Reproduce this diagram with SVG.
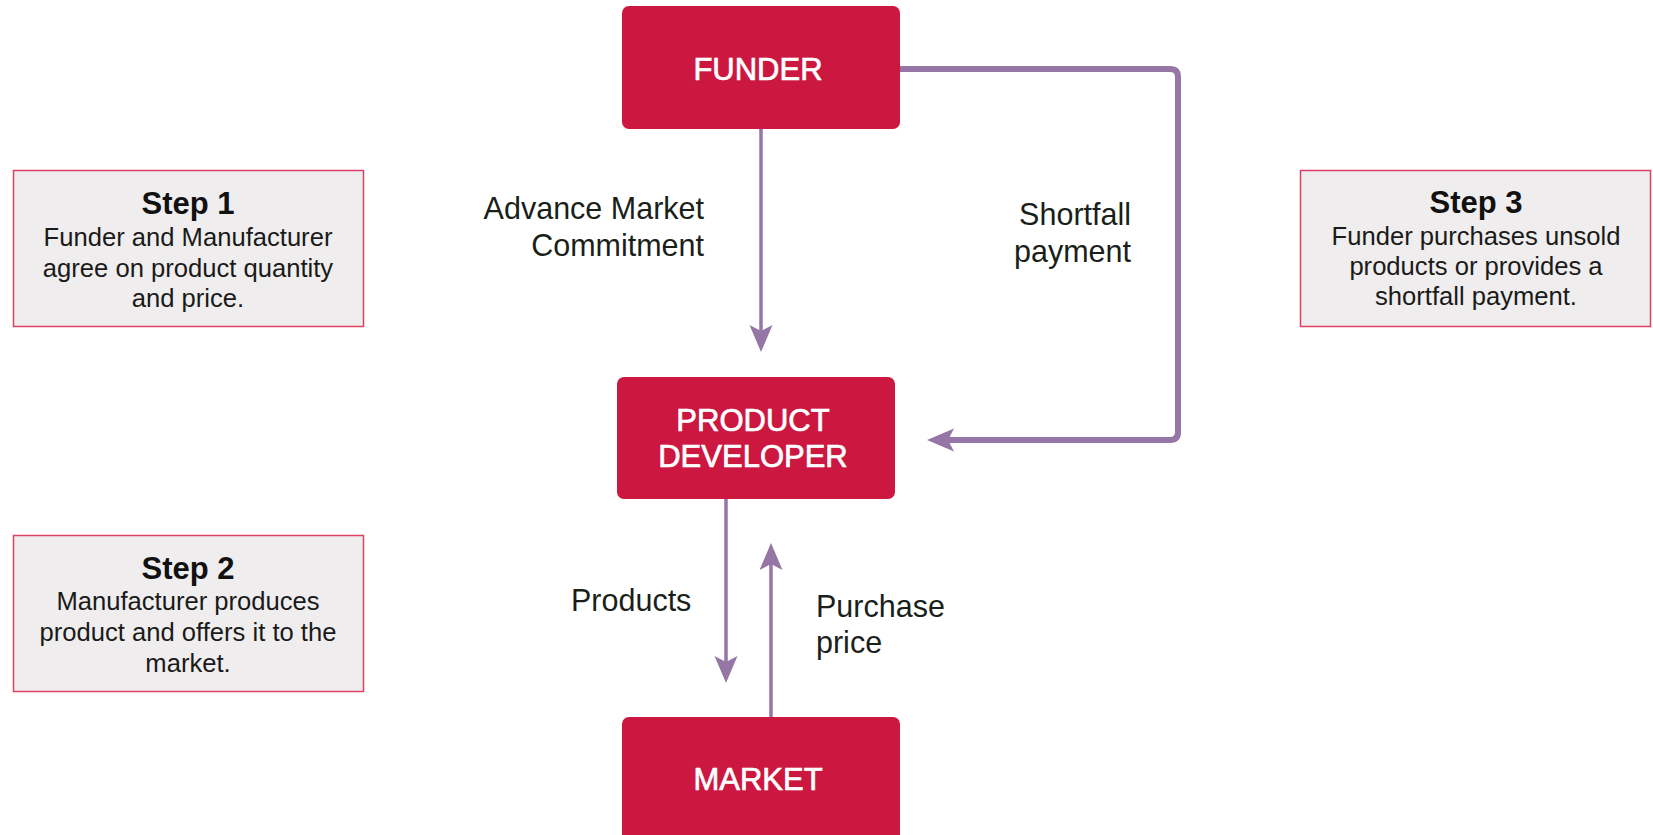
<svg xmlns="http://www.w3.org/2000/svg" width="1653" height="835" viewBox="0 0 1653 835">
<style>
.node{fill:#cc1840}
.ntext{font-family:"Liberation Sans",Arial,sans-serif;font-size:31px;fill:#ffffff;stroke:#ffffff;stroke-width:0.7;text-anchor:middle}
.step{fill:#efeded;stroke:#dc4262;stroke-width:1.5}
.stitle{font-family:"Liberation Sans",Arial,sans-serif;font-size:31px;font-weight:bold;fill:#111111;text-anchor:middle}
.sbody{font-family:"Liberation Sans",Arial,sans-serif;font-size:25.6px;fill:#1a1a1a;text-anchor:middle}
.lbl{font-family:"Liberation Sans",Arial,sans-serif;font-size:30.5px;fill:#1a1f1a}
.conn{fill:none;stroke:#9676a4}
</style>
<defs>
<marker id="ah" markerUnits="userSpaceOnUse" markerWidth="28" markerHeight="24" refX="6" refY="11.5" orient="auto">
<path d="M0,0 L27,11.5 L0,23 L6,11.5 Z" fill="#9676a4"/>
</marker>
</defs>
<rect x="0" y="0" width="1653" height="835" fill="#ffffff"/>
<g id="connectors">
<path class="conn" d="M761,129 V331" stroke-width="3.5" marker-end="url(#ah)"/>
<path class="conn" d="M900,69 H1170 Q1178,69 1178,77 V432 Q1178,440 1170,440 H948" stroke-width="6" marker-end="url(#ah)"/>
<path class="conn" d="M726,499 V662" stroke-width="3.5" marker-end="url(#ah)"/>
<path class="conn" d="M771,717 V564" stroke-width="3.5" marker-end="url(#ah)"/>
<text class="lbl" x="704" y="219" text-anchor="end">Advance Market</text>
<text class="lbl" x="704" y="256" text-anchor="end">Commitment</text>
<text class="lbl" x="1131" y="225" text-anchor="end">Shortfall</text>
<text class="lbl" x="1131" y="262" text-anchor="end">payment</text>
<text class="lbl" x="571" y="611">Products</text>
<text class="lbl" x="816" y="617">Purchase</text>
<text class="lbl" x="816" y="653">price</text>
</g>
<g id="funder">
<rect class="node" x="622" y="6" width="278" height="123" rx="7"/>
<text class="ntext" x="758" y="80">FUNDER</text>
</g>
<g id="product-developer">
<rect class="node" x="617" y="377" width="278" height="122" rx="7"/>
<text class="ntext" x="753" y="431">PRODUCT</text>
<text class="ntext" x="753" y="467">DEVELOPER</text>
</g>
<g id="market">
<rect class="node" x="622" y="717" width="278" height="135" rx="7"/>
<text class="ntext" x="758" y="790">MARKET</text>
</g>
<g id="step1">
<rect class="step" x="13.5" y="170.5" width="350" height="156"/>
<text class="stitle" x="188" y="214">Step 1</text>
<text class="sbody" x="188" y="246">Funder and Manufacturer</text>
<text class="sbody" x="188" y="277">agree on product quantity</text>
<text class="sbody" x="188" y="307">and price.</text>
</g>
<g id="step2">
<rect class="step" x="13.5" y="535.5" width="350" height="156"/>
<text class="stitle" x="188" y="579">Step 2</text>
<text class="sbody" x="188" y="610">Manufacturer produces</text>
<text class="sbody" x="188" y="641">product and offers it to the</text>
<text class="sbody" x="188" y="672">market.</text>
</g>
<g id="step3">
<rect class="step" x="1300.5" y="170.5" width="350" height="156"/>
<text class="stitle" x="1476" y="213">Step 3</text>
<text class="sbody" x="1476" y="245">Funder purchases unsold</text>
<text class="sbody" x="1476" y="275">products or provides a</text>
<text class="sbody" x="1476" y="305">shortfall payment.</text>
</g>
</svg>
